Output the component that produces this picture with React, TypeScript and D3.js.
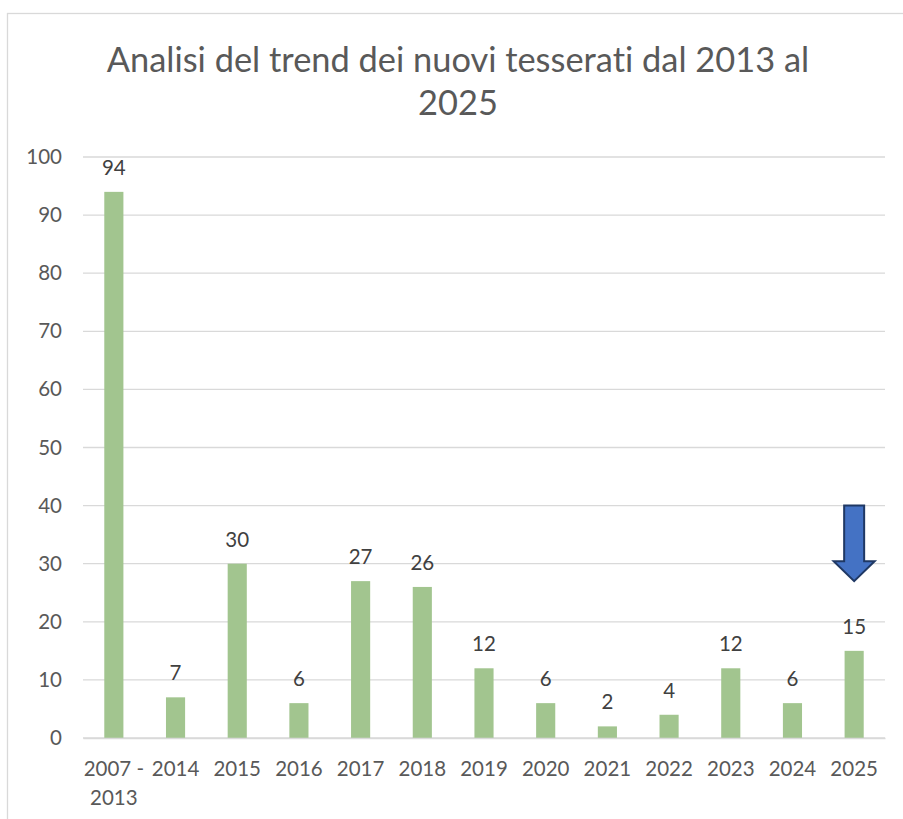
import { useEffect, useRef } from 'react';
import * as d3 from 'd3';

// Nuovi tesserati per anno
const categories = ['2007 - 2013', '2014', '2015', '2016', '2017', '2018', '2019', '2020', '2021', '2022', '2023', '2024', '2025'];
const values = [94, 7, 30, 6, 27, 26, 12, 6, 2, 4, 12, 6, 15];
const yTicks = [0, 10, 20, 30, 40, 50, 60, 70, 80, 90, 100];
const titleLines = ['Analisi del trend dei nuovi tesserati dal 2013 al', '2025'];
// arrow annotation over the last bar: from value 40 down to 27
const arrowCategory = '2025';
const arrowRange = [40, 27];

const FONT = "Lato, 'Noto Sans', sans-serif";

export default function App() {
  const svgRef = useRef<SVGSVGElement>(null);

  useEffect(() => {
    if (!svgRef.current) return;
    const W = 903;
    const H = 819;
    const margin = { top: 157, right: 18, bottom: 81, left: 83 };
    const width = W - margin.left - margin.right;
    const height = H - margin.top - margin.bottom;

    const root = d3.select(svgRef.current);
    root.selectAll('*').remove();
    root.attr('width', W).attr('height', H)
      .style('font-variant-ligatures', 'none');

    // chart border
    root.append('rect')
      .attr('x', 7.5).attr('y', 13.5)
      .attr('width', 1000).attr('height', 1000)
      .attr('fill', '#fff')
      .attr('stroke', '#D9D9D9')
      .attr('stroke-width', 1.3);

    // Title
    root.append('text')
      .attr('text-anchor', 'middle')
      .attr('fill', '#595959')
      .attr('font-size', '34.4px')
      .attr('font-family', FONT)
      .selectAll('tspan')
      .data(titleLines)
      .join('tspan')
      .attr('x', 458)
      .attr('y', (d, i) => 72 + i * 43)
      .text(d => d);

    const svg = root.append('g')
      .attr('transform', `translate(${margin.left}, ${margin.top})`);

    const x = d3.scaleBand().domain(categories).range([0, width]).paddingInner(0.69).paddingOuter(0.345);
    const y = d3.scaleLinear().domain([0, 100]).range([height, 0]);

    // Grid lines
    svg.append('g')
      .selectAll('line')
      .data(yTicks)
      .join('line')
      .attr('x1', 0)
      .attr('x2', width)
      .attr('y1', d => y(d))
      .attr('y2', d => y(d))
      .attr('stroke', '#D9D9D9')
      .attr('stroke-width', 1.3);

    // Bars
    svg.selectAll('.bar')
      .data(values)
      .join('rect')
      .attr('class', 'bar')
      .attr('x', (d, i) => x(categories[i])!)
      .attr('width', x.bandwidth())
      .attr('y', d => y(d))
      .attr('height', d => height - y(d))
      .attr('fill', '#A2C58F');

    // Data labels
    svg.selectAll('.lbl')
      .data(values)
      .join('text')
      .attr('class', 'lbl')
      .attr('x', (d, i) => x(categories[i])! + x.bandwidth() / 2)
      .attr('y', d => y(d) - 17)
      .attr('text-anchor', 'middle')
      .attr('fill', '#404040')
      .attr('font-size', '20.5px')
      .attr('font-family', FONT)
      .text(d => d);

    // Y axis
    svg.append('g')
      .call(d3.axisLeft(y).tickValues(yTicks).tickSize(0).tickPadding(21))
      .call(g => g.select('.domain').remove())
      .selectAll('text')
      .attr('fill', '#595959')
      .attr('font-size', '20.5px')
      .attr('font-family', FONT);

    // X axis
    const xa = svg.append('g')
      .attr('transform', `translate(0, ${height})`)
      .call(d3.axisBottom(x).tickSize(0).tickPadding(0).tickFormat(() => ''))
      .call(g => g.select('.domain').attr('stroke', '#D9D9D9').attr('stroke-width', 1.3));
    xa.selectAll('.tick text').remove();
    xa.selectAll('.tick')
      .append('text')
      .attr('text-anchor', 'middle')
      .attr('fill', '#595959')
      .attr('font-size', '20.5px')
      .attr('font-family', FONT)
      .selectAll('tspan')
      .data(d => {
        const s = String(d);
        return s.includes(' - ') ? [s.split(' - ')[0] + ' -', s.split(' - ')[1]] : [s];
      })
      .join('tspan')
      .attr('x', 0)
      .attr('y', (d, i) => 38 + i * 29)
      .text(d => d);

    // Arrow annotation
    const cx = x(arrowCategory)! + x.bandwidth() / 2;
    const yTop = y(arrowRange[0]);
    const yTip = y(arrowRange[1]);
    const headH = 20;
    const shaftW = 10;
    const headW = 20.5;
    const path = d3.path();
    path.moveTo(cx - shaftW, yTop);
    path.lineTo(cx + shaftW, yTop);
    path.lineTo(cx + shaftW, yTip - headH);
    path.lineTo(cx + headW, yTip - headH);
    path.lineTo(cx, yTip);
    path.lineTo(cx - headW, yTip - headH);
    path.lineTo(cx - shaftW, yTip - headH);
    path.closePath();
    svg.append('path')
      .attr('d', path.toString())
      .attr('fill', '#4472C4')
      .attr('stroke', '#1F3864')
      .attr('stroke-width', 2)
      .attr('stroke-linejoin', 'miter');
  }, []);

  return (
    <div style={{ position: 'absolute', left: 0, top: 0 }}>
      <svg ref={svgRef} style={{ display: 'block' }}></svg>
    </div>
  );
}
